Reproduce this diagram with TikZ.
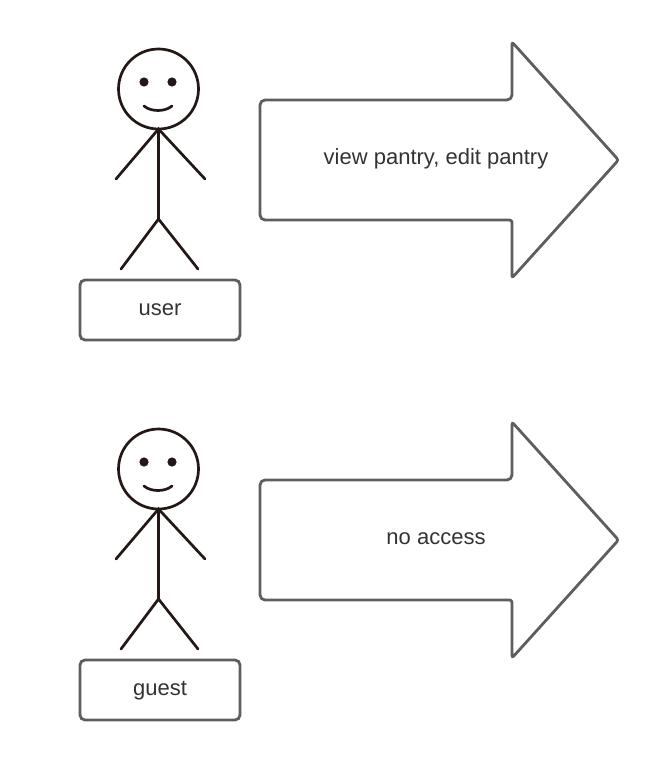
\documentclass[tikz,border=0pt]{standalone}
\usepackage{fontspec}
\setmainfont{Liberation Sans}
\usepackage{xcolor}
\usetikzlibrary{positioning}
\definecolor{figink}{HTML}{231815}
\definecolor{boxline}{HTML}{5E5E5E}
\definecolor{labelink}{HTML}{333333}
\tikzstyle{stick} = [draw=figink, line width=2.7pt, line cap=round]
\tikzstyle{namebox} = [draw=boxline, line width=2.8pt, rounded corners=5pt, minimum width=160pt, minimum height=60pt, inner sep=0pt]
\tikzstyle{bigarrow} = [draw=boxline, line width=2.8pt, rounded corners=5pt, line join=round]
\tikzstyle{lbl} = [text=labelink, font=\fontsize{22}{26}\selectfont, inner sep=0pt, anchor=base]

\begin{document}
\begin{tikzpicture}[x=1pt,y=-1pt]
	\useasboundingbox (0,0) rectangle (660,760);
	\foreach \yy/\who/\what in {0/user/{view pantry, edit pantry},380/guest/{no access}}{
		\begin{scope}[yshift=-\yy pt]
			% head and face
			\draw[stick] (158.5,89) circle (40);
			\fill[figink] (144,82) circle (4.6);
			\fill[figink] (172,82) circle (4.6);
			\draw[stick] (144,106) .. controls (151,112) and (165,112) .. (172,106);
			% body
			\coordinate (neck) at (158.5,129);
			\coordinate (hip) at (158.5,219);
			\draw[stick] (neck) -- (hip);
			\draw[stick] (116,179) -- (neck) -- (205,179);
			\draw[stick] (121,269) -- (hip) -- (198,269);
			% name under the figure
			\node[namebox] (box\who) at (160,310) {};
			\node[lbl] (name\who) at (160,315) {\who};
			% arrow to the right
			\draw[bigarrow] (260,160) -- (260,100) -- (512,100)
			[rounded corners=2.5pt] -- (512,42) -- (618.5,160) -- (512,278)
			-- (512,220) [rounded corners=5pt] -- (260,220) -- cycle;
			\node[lbl] (text\who) at (436,164) {\what};
		\end{scope}
	}
\end{tikzpicture}
\end{document}
